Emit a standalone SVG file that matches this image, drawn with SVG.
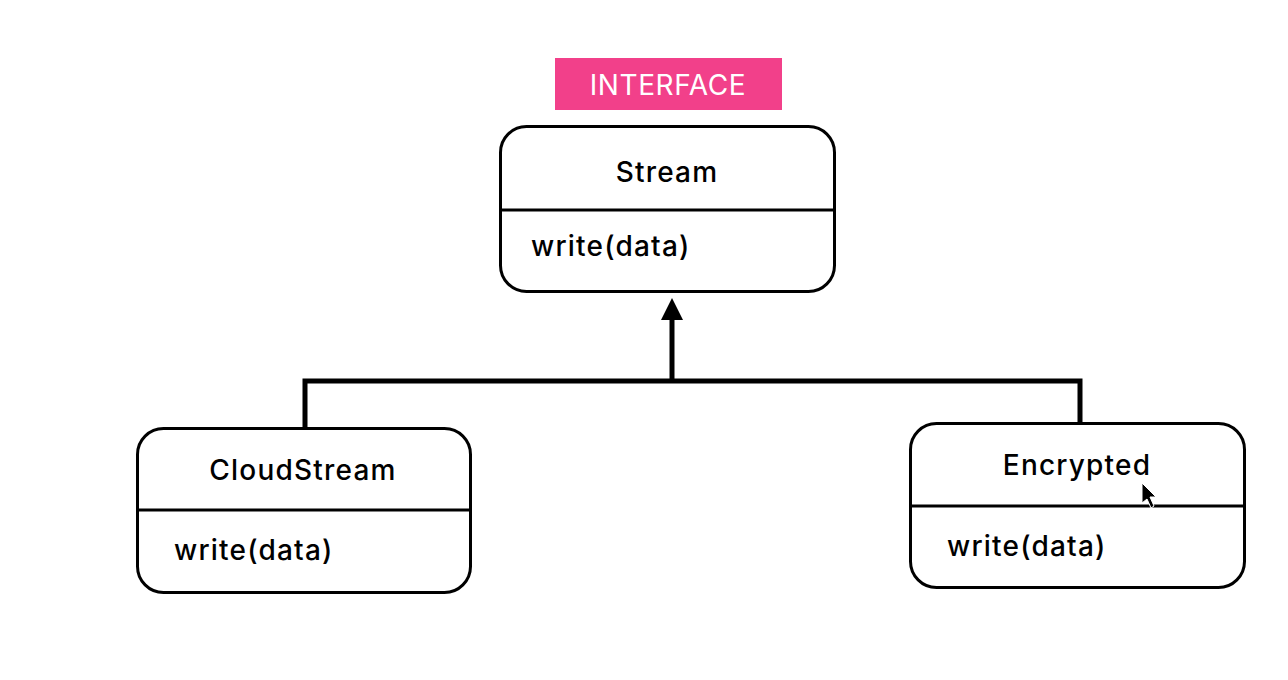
<svg xmlns="http://www.w3.org/2000/svg" width="1288" height="680" viewBox="0 0 1288 680">
<style>
.box{fill:#fff;stroke:#000;stroke-width:3}
.div{stroke:#000;stroke-width:3}
.t{font-family:Inter,"Open Sans","Liberation Sans",sans-serif;font-size:28px;fill:#000;font-weight:500;letter-spacing:1.2px}
.title{text-anchor:middle}
.conn{fill:none;stroke:#000;stroke-width:5}
</style>
<rect width="1288" height="680" fill="#fff"/>
<g id="label-interface">
<rect x="555" y="58" width="227" height="52" fill="#f2408a"/>
<text x="668" y="95" class="t title" style="fill:#fff;font-size:28px;font-weight:400;letter-spacing:0.6px">INTERFACE</text>
</g>
<g id="connectors">
<polyline class="conn" points="305,428 305,381 1080,381 1080,423"/>
<line class="conn" x1="672" y1="381" x2="672" y2="318"/>
<path d="M661,320 L672,298 L683,320 Z" fill="#000"/>
</g>
<g id="node-stream">
<rect class="box" x="500.5" y="126.5" width="334" height="165" rx="26"/>
<line class="div" x1="500" y1="210" x2="835" y2="210"/>
<text class="t title" x="667" y="182">Stream</text>
<text class="t" x="531" y="256">write(data)</text>
</g>
<g id="node-cloudstream">
<rect class="box" x="137.5" y="428.5" width="333" height="164" rx="26"/>
<line class="div" x1="137" y1="510" x2="471" y2="510"/>
<text class="t title" x="303" y="480">CloudStream</text>
<text class="t" x="174" y="560">write(data)</text>
</g>
<g id="node-encrypted">
<rect class="box" x="910.5" y="423.5" width="334" height="164" rx="26"/>
<line class="div" x1="910" y1="506" x2="1245" y2="506"/>
<text class="t title" x="1077" y="475">Encrypted</text>
<text class="t" x="947" y="556">write(data)</text>
</g>
<g id="cursor">
<path d="M1142,483 L1142,503 L1147,499 L1151,508 L1154,506 L1150,497 L1156,497 Z" fill="#000" stroke="#fff" stroke-width="1"/>
</g>
</svg>
